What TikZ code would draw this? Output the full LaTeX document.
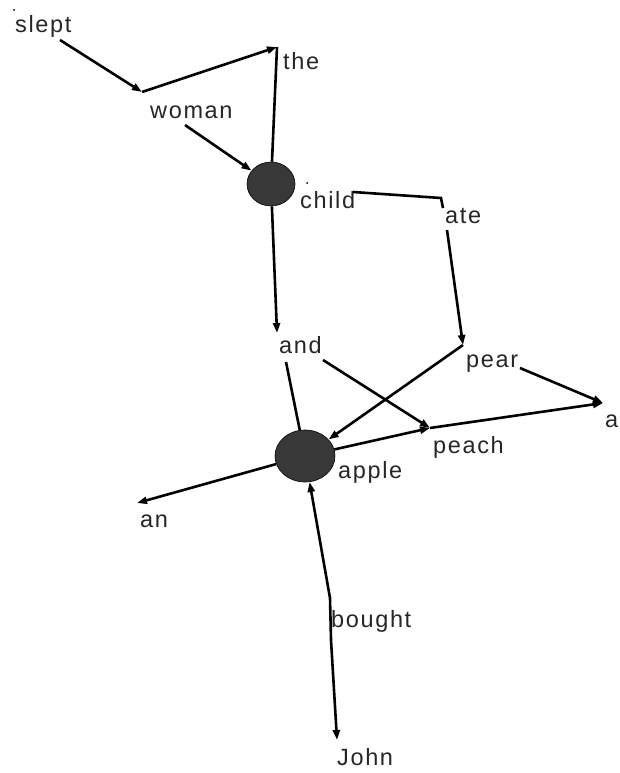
\documentclass[tikz,border=0pt]{standalone}
\usepackage{fontspec}
\setmainfont{Liberation Sans}[LetterSpace=7]
\usetikzlibrary{arrows.meta,shapes.geometric}
\begin{document}
\begin{tikzpicture}[x=1pt,y=-1pt,
  lbl/.style={anchor=base west,inner sep=0pt,text=black!85,font=\fontsize{23.5}{26}\selectfont},
  edge/.style={line width=2.6pt,black},
  arr/.style={edge,-{Triangle[length=10pt,width=7pt]}},
  hub/.style={ellipse,fill=black!78,draw=black,line width=0.6pt,inner sep=0pt},
  dot/.style={circle,fill=black,inner sep=0pt,minimum size=2pt}]
\useasboundingbox (0,0) rectangle (619,773);
% hubs
\node[hub,minimum width=48pt,minimum height=44pt] (child) at (271,184) {};
\node[hub,minimum width=60pt,minimum height=52pt] (apple) at (305,456) {};
% labels
\node[lbl] (lslept) at (15,33) {slept};
\node[lbl] (lwoman) at (150,118) {woman};
\node[lbl] (lthe) at (283,70) {the};
\node[lbl] (lchild) at (300,208) {child};
\node[lbl] (late) at (445,223) {ate};
\node[lbl] (land) at (279,353) {and};
\node[lbl] (lpear) at (466,367) {pear};
\node[lbl] (la) at (605,427) {a};
\node[lbl] (lpeach) at (433,453) {peach};
\node[lbl] (lapple) at (338,478) {apple};
\node[lbl] (lan) at (140,527) {an};
\node[lbl] (lbought) at (331,627) {bought};
\node[lbl] (lJohn) at (337,765) {John};
% points
\node[dot] (pslept) at (14,10) {};
\node[dot] (pchild) at (307,183) {};
\coordinate (sleptout) at (60,40);
\coordinate (pwoman) at (142,92);
\coordinate (womanout) at (185,125);
\coordinate (pthe) at (277,47);
\coordinate (childout) at (353,192);
\coordinate (pate) at (441,198);
\coordinate (atetick) at (443,208);
\coordinate (ateout) at (447,230);
\coordinate (ppear) at (463,345);
\coordinate (pand) at (277,333);
\coordinate (andout1) at (286,362);
\coordinate (andout2) at (323,360);
\coordinate (ppeach) at (430,428);
\coordinate (pearout) at (520,368);
\coordinate (pa) at (603,403);
\coordinate (pan) at (137,503);
\coordinate (pbought) at (330,598);
\coordinate (boughtout) at (331,640);
\coordinate (pJohn) at (337,740);
% connectors
\draw[arr] (sleptout) -- (pwoman);
\draw[arr] (pwoman) -- (pthe);
\draw[edge] (pthe) -- (child);
\draw[arr] (womanout) -- (child);
\draw[arr] (child) -- (pand);
\draw[edge] (childout) -- (pate) -- (atetick);
\draw[arr] (ateout) -- (ppear);
\draw[arr] (ppear) -- (apple);
\draw[arr] (pearout) -- (pa);
\draw[edge] (andout1) -- (apple);
\draw[arr] (andout2) -- (ppeach);
\draw[arr] (apple) -- (ppeach);
\draw[arr] (ppeach) -- (pa);
\draw[arr] (apple) -- (pan);
\draw[arr] (pbought) -- (apple);
\draw[edge] (pbought) -- (boughtout);
\draw[arr] (boughtout) -- (pJohn);
\end{tikzpicture}
\end{document}
